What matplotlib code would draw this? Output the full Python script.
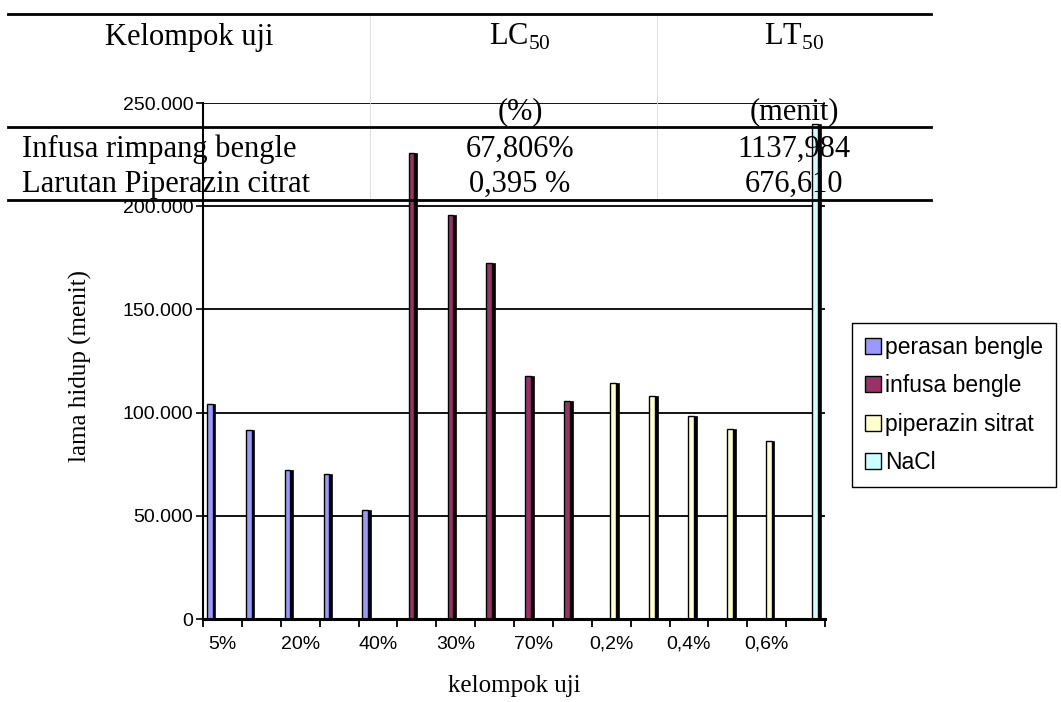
import numpy as np
import matplotlib.pyplot as plt
from matplotlib.lines import Line2D
from matplotlib.patches import Patch

plt.rcParams['mathtext.fontset'] = 'custom'
plt.rcParams['mathtext.rm'] = 'Liberation Serif'

# data (lama hidup, menit)
series_names = ['perasan bengle', 'infusa bengle', 'piperazin sitrat', 'NaCl']
series_colors = ['#9999FF', '#993366', '#FFFFCC', '#CCFFFF']

perasan_cats = ['5%', '10%', '20%', '30%', '40%']
perasan_vals = [104200, 91600, 72200, 70300, 52800]
infusa_cats = ['10%', '30%', '50%', '70%', '90%']
infusa_vals = [225800, 195500, 172600, 117900, 105800]
piperazin_cats = ['0,2%', '0,3%', '0,4%', '0,5%', '0,6%']
piperazin_vals = [114200, 108200, 98500, 91900, 86200]
nacl_cats = ['NaCl']
nacl_vals = [239800]

groups = [(perasan_cats, perasan_vals), (infusa_cats, infusa_vals),
          (piperazin_cats, piperazin_vals), (nacl_cats, nacl_vals)]
categories = perasan_cats + infusa_cats + piperazin_cats + nacl_cats

# overlaid table from the document
table_header = ['Kelompok uji', r'LC$_{\mathrm{50}}$', r'LT$_{\mathrm{50}}$']
table_units = ['', '(%)', '(menit)']
table_rows = [['Infusa rimpang bengle', '67,806%', '1137,984'],
              ['Larutan Piperazin citrat', '0,395 %', '676,610']]

W, H = 1061, 702
fig = plt.figure(figsize=(W / 100, H / 100), dpi=100)
ax = fig.add_axes([203 / W, 1 - 619 / H, 622 / W, 516 / H])

# bars: one slot per series inside every category (excel clustered look)
face_w, side_w = 0.15, 0.07
start = 0
for s, (cats, vals) in enumerate(groups):
    idx = np.arange(start, start + len(cats))
    left = idx + 0.10 + 0.19 * s
    ax.bar(left, vals, width=face_w, align='edge', color=series_colors[s],
           edgecolor='black', linewidth=1, zorder=3)
    ax.bar(left + face_w, vals, width=side_w, align='edge', color='black',
           edgecolor='black', linewidth=0.5, zorder=3)
    start += len(cats)

n = len(categories)
ax.set_xlim(0, n)
ax.set_ylim(0, 250000)
ax.set_yticks(np.arange(0, 250001, 50000))
ax.set_yticklabels(['0' if v == 0 else f'{v:,.0f}'.replace(',', '.')
                    for v in np.arange(0, 250001, 50000)])
ax.set_xticks(np.arange(0, n + 1))
ax.set_xticklabels([])
ax.set_xticks(np.arange(n) + 0.5, minor=True)
ax.set_xticklabels([c if i % 2 == 0 else '' for i, c in enumerate(categories)],
                   minor=True)
ax.tick_params(axis='x', which='minor', length=0, pad=12,
               labelsize=14, labelfontfamily='Liberation Sans')
ax.tick_params(axis='x', which='major', length=6, width=1.3, direction='out')
ax.tick_params(axis='y', length=5, width=1.2, pad=2, labelsize=14,
               labelfontfamily='Liberation Sans')

ax.yaxis.grid(True, color='black', linewidth=1.3)
ax.set_axisbelow(True)
for sp in ['top', 'right']:
    ax.spines[sp].set_visible(False)
ax.spines['left'].set_linewidth(1.5)
ax.spines['bottom'].set_linewidth(2.2)
ax.spines['bottom'].set_zorder(4)

ax.set_ylabel('lama hidup (menit)', fontsize=18, family='Liberation Serif')
ax.yaxis.set_label_coords((80 - 203) / 622, 0.49)
ax.yaxis.label.set_va('center')
ax.set_xlabel('kelompok uji', fontsize=18, family='Liberation Serif')
ax.xaxis.set_label_coords(0.5, (619 - 686) / 516)
ax.xaxis.label.set_va('center')

handles = [Patch(facecolor=c, edgecolor='black', linewidth=1) for c in series_colors]
fig.legend(handles, series_names, loc='upper left',
           bbox_to_anchor=(852 / W, 1 - 323 / H), borderaxespad=0,
           prop={'family': 'Liberation Sans', 'size': 16.5},
           frameon=True, fancybox=False, edgecolor='black', framealpha=1,
           handlelength=0.7, handleheight=0.7, handletextpad=0.2,
           labelspacing=0.68, borderpad=0.55)


# table drawn over the chart, in pixel positions of the page
def fx(x):
    return x / W


def fy(y):
    return 1 - y / H


for y in [14, 127, 200]:
    fig.add_artist(Line2D([fx(8), fx(931)], [fy(y), fy(y)], color='black',
                          linewidth=2, zorder=10))
for x in [370, 657]:
    fig.add_artist(Line2D([fx(x), fx(x)], [fy(14), fy(200)], color='#d8d8d8',
                          linewidth=0.6, zorder=9))

col_x = [189, 520, 794]
tkw = dict(fontsize=22, family='Liberation Serif', va='baseline', zorder=11)
for x, t in zip(col_x, table_header):
    fig.text(fx(x), fy(45), t, ha='center', **tkw)
for x, t in zip(col_x, table_units):
    if t:
        fig.text(fx(x), fy(119), t, ha='center', **tkw)
for row, y in zip(table_rows, [157, 192]):
    fig.text(fx(22), fy(y), row[0], ha='left', **tkw)
    fig.text(fx(col_x[1]), fy(y), row[1], ha='center', **tkw)
    fig.text(fx(col_x[2]), fy(y), row[2], ha='center', **tkw)

fig.savefig('out.png', dpi=100)
